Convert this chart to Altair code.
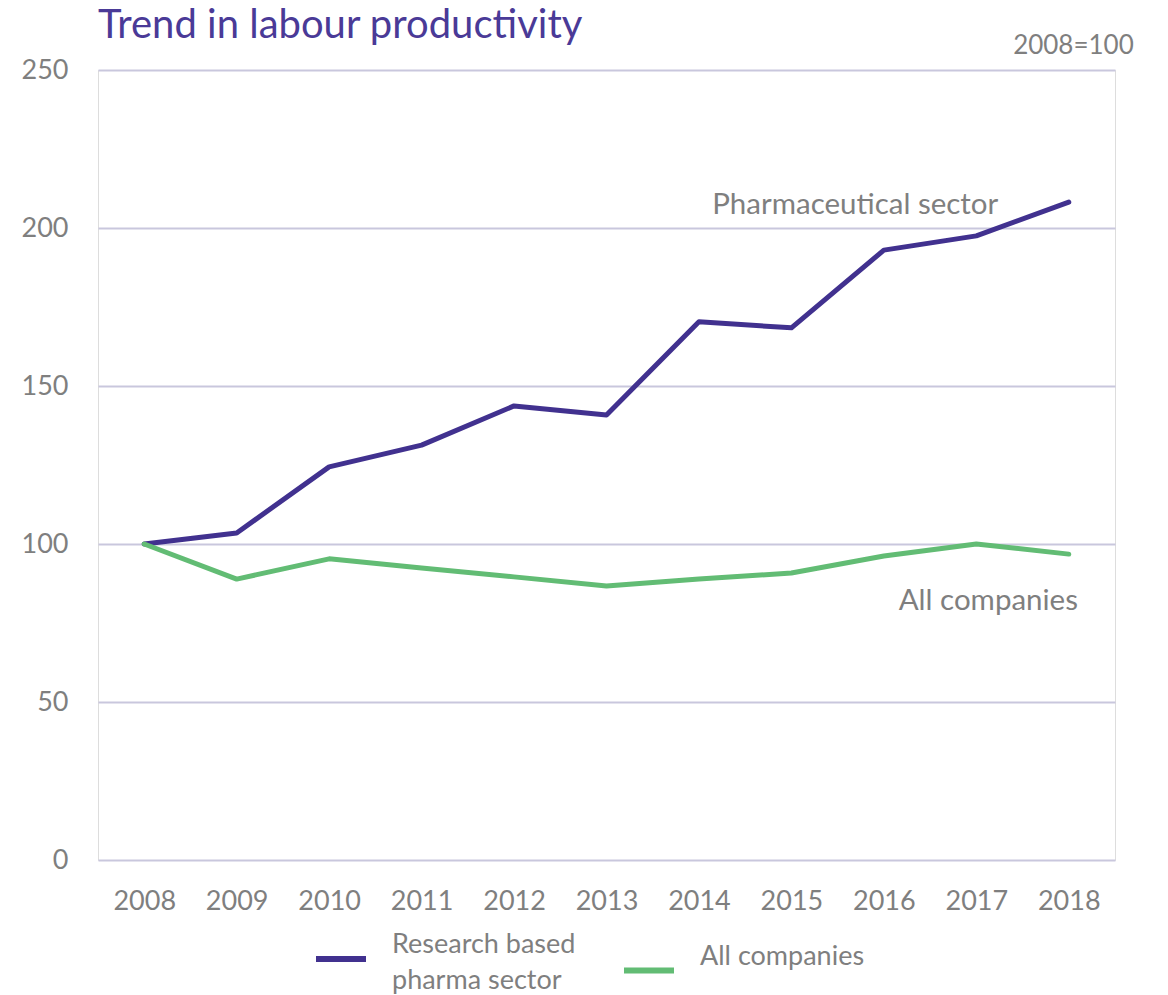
import altair as alt
import pandas as pd

years = [str(y) for y in range(2008, 2019)]
pharma = [100, 103.5, 124.4, 131.3, 143.7, 140.8, 170.3, 168.4, 193.0, 197.5, 208.2]
allco = [100, 88.9, 95.3, 92.4, 89.6, 86.7, 88.9, 90.8, 96.2, 100.0, 96.8]
series = ["Research based pharma sector", "All companies"]
colors = ["#41318F", "#62BC74"]

rows = []
for s, vals in zip(series, [pharma, allco]):
    for y, v in zip(years, vals):
        rows.append({"year": y, "value": v, "series": s})
df = pd.DataFrame(rows)

FONT = "Lato"
GRAY = "#7F7F7F"

x = alt.X("year:O", title=None,
          axis=alt.Axis(labelAngle=0, labelFontSize=27, labelColor=GRAY, labelFont=FONT,
                        labelPadding=28, ticks=False, domain=False, grid=False))
y = alt.Y("value:Q", title=None,
          scale=alt.Scale(domain=[0, 250], nice=False),
          axis=alt.Axis(values=[0, 50, 100, 150, 200, 250], labelFontSize=27, labelColor=GRAY,
                        labelFont=FONT, labelPadding=30, ticks=False, domain=False,
                        gridColor="#C9C7DD", gridWidth=2))

lines = alt.Chart(df).mark_line(strokeWidth=5, strokeCap="round", strokeJoin="round").encode(
    x=x, y=y,
    color=alt.Color("series:N", sort=series,
                    scale=alt.Scale(domain=series, range=colors),
                    legend=alt.Legend(
                        title=None, orient="none", direction="horizontal",
                        legendX=215, legendY=861, labelBaseline="bottom",
                        symbolType="stroke", symbolSize=2500, symbolStrokeWidth=6,
                        labelFontSize=27, labelColor=GRAY, labelFont=FONT,
                        labelOffset=23, columnPadding=36, labelLimit=400,
                        labelExpr="datum.label == 'Research based pharma sector' ? ['Research based', 'pharma sector'] : datum.label")),
)

lab_text = ["Pharmaceutical sector", "All companies", "2008=100"]
lab_year = ["2017", "2017", "2018"]
lab_val = [207.3, 82.0, 257.6]
lab_dx = [22, 12, 65]
lab_size = [29.5, 29.5, 26]
lab_align = ["right", "center", "right"]
labs = pd.DataFrame({"text": lab_text, "year": lab_year, "value": lab_val})

text_layers = []
for i in range(len(labs)):
    text_layers.append(
        alt.Chart(labs.iloc[[i]]).mark_text(
            fontSize=lab_size[i], font=FONT, color=GRAY, align=lab_align[i],
            baseline="middle", dx=lab_dx[i]
        ).encode(x=alt.X("year:O"), y=alt.Y("value:Q"), text="text:N")
    )

chart = alt.layer(lines, *text_layers).properties(
    width=1017, height=790,
    autosize=alt.AutoSizeParams(type="none"),
    padding={"left": 98, "top": 70, "right": 53, "bottom": 135},
    title=alt.Title("Trend in labour productivity", anchor="start", frame="group", fontSize=40,
                    font=FONT, fontWeight="normal", color="#4A3A97", offset=-13),
).configure_view(stroke=None).configure(
    style={"guide-label": {"lineHeight": 36}}
)

chart.save("out.html", embed_options={"renderer": "svg", "actions": False})
